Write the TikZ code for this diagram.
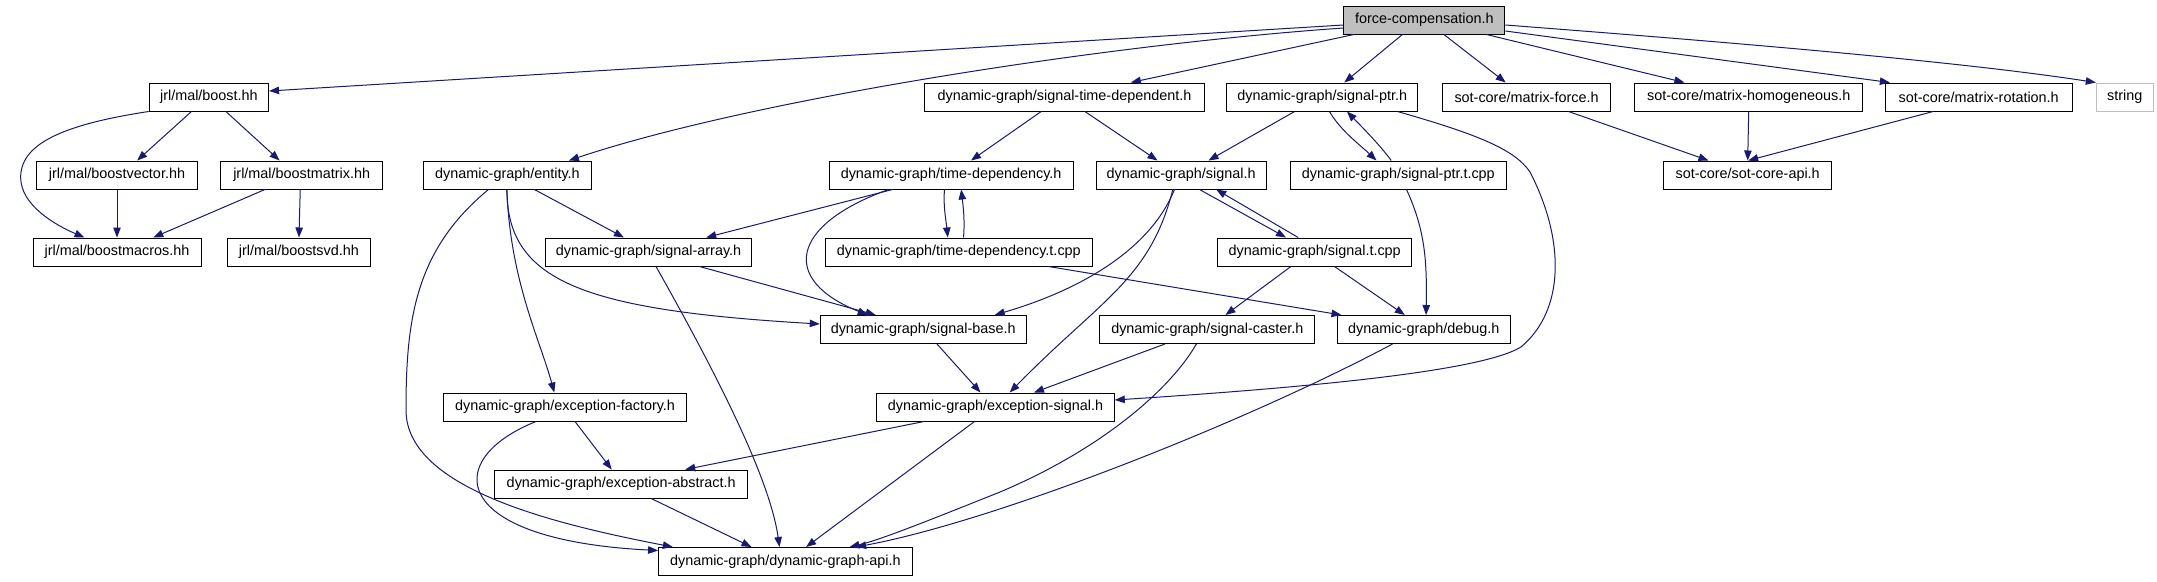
\documentclass[tikz,border=0pt]{standalone}
\usepackage{fontspec}
\setmainfont{Liberation Sans}
\usetikzlibrary{arrows.meta,calc}
\definecolor{edgeblue}{HTML}{191970}
\definecolor{grayfill}{HTML}{BFBFBF}
\tikzset{
  box/.style={draw=black, line width=1pt, fill=white, minimum height=28pt, inner sep=0pt,
    font=\fontsize{14.4}{17}\selectfont, text=black},
  mainbox/.style={box, fill=grayfill},
  extbox/.style={box, draw=grayfill},
  dep/.style={draw=edgeblue, line width=1pt, -{Triangle[length=10pt,width=7.5pt]}, fill=none},
}
\begin{document}
\begin{tikzpicture}[x=1pt,y=-1pt]
\useasboundingbox (0,0) rectangle (2157,581);
% row 1
\node[mainbox, minimum width=161pt] (fc) at (1424.3,20) {force-compensation.h};
% row 2
\node[box, minimum width=119.4pt] (boost) at (208.9,97) {jrl/mal/boost.hh};
\node[box, minimum width=279.2pt] (std) at (1064.5,97) {dynamic-graph/signal-time-dependent.h};
\node[box, minimum width=191.5pt] (sptr) at (1322.2,97) {dynamic-graph/signal-ptr.h};
\node[box, minimum width=168pt] (mforce) at (1526.5,97) {sot-core/matrix-force.h};
\node[box, minimum width=228pt] (mhom) at (1748.7,97) {sot-core/matrix-homogeneous.h};
\node[box, minimum width=186.7pt] (mrot) at (1978.7,97) {sot-core/matrix-rotation.h};
\node[extbox, minimum width=57pt] (string) at (2124.8,97) {string};
% row 3
\node[box, minimum width=160.7pt] (bvec) at (117,175) {jrl/mal/boostvector.hh};
\node[box, minimum width=161.7pt] (bmat) at (301.7,175) {jrl/mal/boostmatrix.hh};
\node[box, minimum width=168pt] (entity) at (507.4,175) {dynamic-graph/entity.h};
\node[box, minimum width=244.2pt] (td) at (951.1,175) {dynamic-graph/time-dependency.h};
\node[box, minimum width=170.2pt] (sig) at (1181.1,175) {dynamic-graph/signal.h};
\node[box, minimum width=215.8pt] (sptrt) at (1398.3,175) {dynamic-graph/signal-ptr.t.cpp};
\node[box, minimum width=168pt] (sotapi) at (1747.7,175) {sot-core/sot-core-api.h};
% row 4
\node[box, minimum width=168pt] (bmac) at (117,252) {jrl/mal/boostmacros.hh};
\node[box, minimum width=142.3pt] (bsvd) at (298.9,252) {jrl/mal/boostsvd.hh};
\node[box, minimum width=206pt] (sarr) at (648.5,252) {dynamic-graph/signal-array.h};
\node[box, minimum width=267.6pt] (tdt) at (958.8,252) {dynamic-graph/time-dependency.t.cpp};
\node[box, minimum width=194pt] (sigt) at (1314.7,252) {dynamic-graph/signal.t.cpp};
% row 5
\node[box, minimum width=206pt] (sbase) at (923.2,329.5) {dynamic-graph/signal-base.h};
\node[box, minimum width=214.7pt] (scaster) at (1207.3,329.5) {dynamic-graph/signal-caster.h};
\node[box, minimum width=173.6pt] (debug) at (1423.8,329.5) {dynamic-graph/debug.h};
% row 6
\node[box, minimum width=243pt] (efac) at (565.1,407) {dynamic-graph/exception-factory.h};
\node[box, minimum width=237.6pt] (esig) at (995.5,407) {dynamic-graph/exception-signal.h};
% row 7
\node[box, minimum width=253pt] (eabs) at (621.2,484) {dynamic-graph/exception-abstract.h};
% row 8
\node[box, minimum width=253.4pt] (api) at (785.3,561.5) {dynamic-graph/dynamic-graph-api.h};

% edges from force-compensation.h
\draw[dep] ($(fc.west)+(0,5)$) -- ($(boost.east)+(0,-6)$);
\draw[dep] ($(fc.west)+(0,8)$) .. controls (1100,45) and (750,100) .. ($(entity.north west)+(146,0)$);
\draw[dep] ($(fc.south west)+(10.6,0)$) -- ($(std.north west)+(206.5,0)$);
\draw[dep] ($(fc.south west)+(59.1,0)$) -- ($(sptr.north west)+(118.3,0)$);
\draw[dep] ($(fc.south west)+(100.6,0)$) -- ($(mforce.north west)+(63.7,0)$);
\draw[dep] ($(fc.south west)+(143.1,0)$) -- ($(mhom.north west)+(50.2,0)$);
\draw[dep] ($(fc.east)+(0,11)$) -- ($(mrot.north west)+(5,0)$);
\draw[dep] ($(fc.east)+(0,5)$) .. controls (1700,40) and (1950,60) .. (string.north west);
% boost
\draw[dep] ($(boost.south west)+(42.8,0)$) -- ($(bvec.north west)+(101,0)$);
\draw[dep] ($(boost.south west)+(77.2,0)$) -- ($(bmat.north west)+(59.2,0)$);
\draw[dep] (boost.south west) .. controls (60,125) and (20,145) .. (20.7,178) .. controls (21,205) and (55,225) .. ($(bmac.north west)+(52,0)$);
\draw[dep] (bvec.south) -- (bmac.north);
\draw[dep] ($(bmat.south west)+(44.6,0)$) -- ($(bmac.north west)+(120.8,0)$);
\draw[dep] ($(bmat.south west)+(79.9,0)$) -- ($(bsvd.north west)+(71.7,0)$);
% entity
\draw[dep] ($(entity.south west)+(111.5,0)$) -- ($(sarr.north west)+(78.9,0)$);
\draw[dep] ($(entity.south west)+(84,0)$) .. controls (507,280) and (580,310) .. ($(sbase.west)+(0,-5.5)$);
\draw[dep] ($(entity.south west)+(84,0)$) .. controls (510,280) and (540,340) .. ($(efac.north west)+(111.2,0)$);
\draw[dep] ($(entity.south west)+(65.6,0)$) .. controls (415,250) and (406,320) .. (406,410) .. controls (406,490) and (560,525) .. ($(api.north west)+(14.7,0)$);
% exception-factory
\draw[dep] ($(efac.south west)+(92.9,0)$) .. controls (440,460) and (450,540) .. ($(api.west)+(0,-11)$);
\draw[dep] ($(efac.south west)+(131.9,0)$) -- ($(eabs.north west)+(117.5,0)$);
% exception-signal
\draw[dep] ($(esig.south west)+(47.7,0)$) -- ($(eabs.north west)+(191,0)$);
\draw[dep] ($(esig.south west)+(98.3,0)$) -- ($(api.north west)+(148,0)$);
% exception-abstract
\draw[dep] ($(eabs.south west)+(157,0)$) -- ($(api.north west)+(93.4,0)$);
% signal-array
\draw[dep] ($(sarr.south west)+(111,0)$) .. controls (720,380) and (770,480) .. ($(api.north west)+(121.4,0)$);
\draw[dep] ($(sarr.south west)+(154.5,0)$) -- ($(sbase.north west)+(56,0)$);
% signal-caster
\draw[dep] ($(scaster.south west)+(96.9,0)$) .. controls (1170,390) and (1100,450) .. (1000,492) .. controls (930,520) and (880,540) .. ($(api.north west)+(191.4,0)$);
\draw[dep] ($(scaster.south west)+(65.4,0)$) -- ($(esig.north west)+(157.8,0)$);
% debug
\draw[dep] ($(debug.south west)+(56,0)$) .. controls (1250,420) and (1000,520) .. ($(api.north west)+(198,0)$);
% signal-base
\draw[dep] ($(sbase.south west)+(117.3,0)$) -- ($(esig.north west)+(104.3,0)$);
% signal.h
\draw[dep] ($(sig.south west)+(77.3,0)$) .. controls (1150,280) and (1100,300) .. ($(esig.north west)+(133.5,0)$);
\draw[dep] ($(sig.south west)+(79,0)$) .. controls (1150,250) and (1080,290) .. ($(sbase.north west)+(175,0)$);
\draw[dep] ($(sig.south west)+(104,0)$) -- ($(sigt.north west)+(68.8,0)$);
% signal.t.cpp
\draw[dep] ($(sigt.north west)+(81,0)$) -- ($(sig.south west)+(120.7,0)$);
\draw[dep] ($(sigt.south west)+(73.7,0)$) -- ($(scaster.north west)+(126,0)$);
\draw[dep] ($(sigt.south west)+(117.3,0)$) -- ($(debug.north west)+(68.3,0)$);
% signal-ptr.h
\draw[dep] ($(sptr.south west)+(68.6,0)$) -- ($(sig.north west)+(113,0)$);
\draw[dep] ($(sptr.south west)+(103.5,0)$) .. controls (1340,130) and (1360,145) .. ($(sptrt.north west)+(86.6,0)$);
\draw[dep] ($(sptr.south west)+(171.5,0)$) .. controls (1480,135) and (1515,150) .. (1530,172) .. controls (1565,240) and (1565,310) .. (1521,347) .. controls (1480,372) and (1300,388) .. ($(esig.east)+(0,-7)$);
% signal-ptr.t.cpp
\draw[dep] ($(sptrt.north west)+(101.3,0)$) .. controls (1380,145) and (1360,125) .. ($(sptr.south west)+(121,0)$);
\draw[dep] ($(sptrt.south west)+(116.6,0)$) .. controls (1425,230) and (1427,260) .. ($(debug.north west)+(89.6,0)$);
% signal-time-dependent.h
\draw[dep] ($(std.south west)+(116.8,0)$) -- ($(td.north west)+(142.5,0)$);
\draw[dep] ($(std.south west)+(160.5,0)$) -- ($(sig.north west)+(62,0)$);
% time-dependency.h
\draw[dep] ($(td.south west)+(64,0)$) -- ($(sarr.north west)+(161.2,0)$);
\draw[dep] ($(td.south west)+(60,0)$) .. controls (790,225) and (780,280) .. ($(sbase.north west)+(48,0)$);
\draw[dep] ($(td.south west)+(116,0)$) .. controls (943,205) and (946,220) .. ($(tdt.north west)+(123.3,0)$);
% time-dependency.t.cpp
\draw[dep] ($(tdt.north west)+(139,0)$) .. controls (965,220) and (963,205) .. ($(td.south west)+(132.7,0)$);
\draw[dep] ($(tdt.south west)+(224,0)$) -- ($(debug.north west)+(5,0)$);
% sot-core
\draw[dep] ($(mforce.south west)+(126.5,0)$) -- ($(sotapi.north west)+(45.3,0)$);
\draw[dep] (mhom.south) -- (sotapi.north);
\draw[dep] ($(mrot.south west)+(48.3,0)$) -- ($(sotapi.north west)+(85,0)$);
\end{tikzpicture}
\end{document}
